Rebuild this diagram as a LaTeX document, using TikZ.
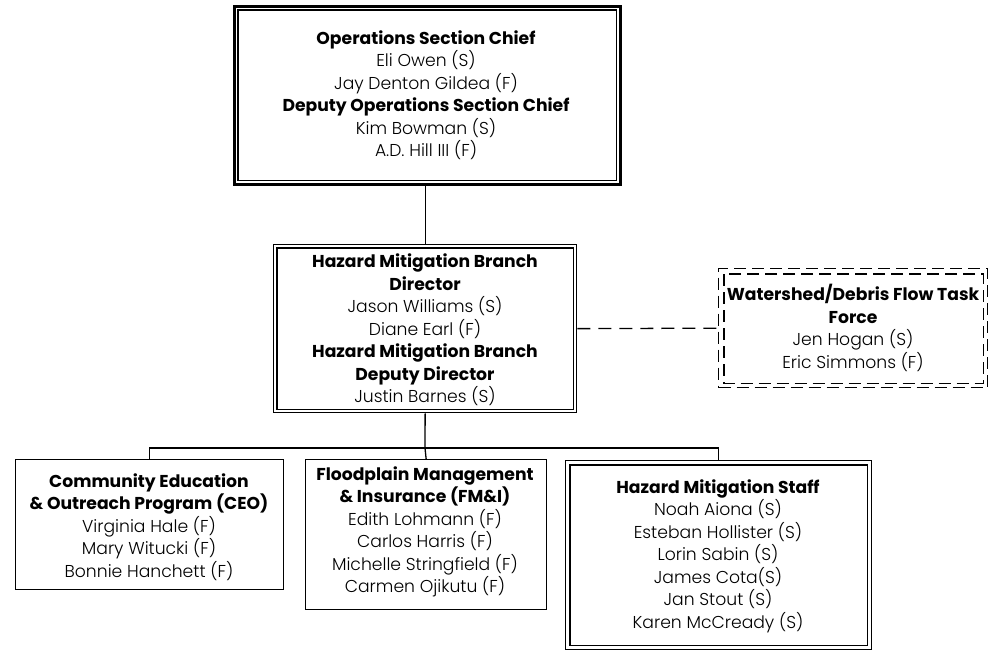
\documentclass[tikz,border=0pt]{standalone}
\usepackage{fontspec}
\IfFontExistsTF{Poppins Light}{\setmainfont{Poppins}[UprightFont=* Light, BoldFont=* Bold]}{\setmainfont{Poppins}}
\begin{document}
\begin{tikzpicture}[x=1pt,y=-1pt,
  box/.style={draw, line width=1.3pt, inner sep=0pt, anchor=north west},
  thickbox/.style={draw, line width=2.6pt, inner sep=0pt, anchor=north west},
  dbox/.style={draw, line width=1.3pt, inner sep=0pt, anchor=north west, dash pattern=on 12pt off 6pt},
  inner/.style={line width=1.1pt},
  txt/.style={align=center, font=\fontsize{17.2}{22.5}\selectfont, inner sep=0pt},
  conn/.style={line width=1.3pt},
  dconn/.style={line width=1.3pt, dash pattern=on 13pt off 8pt}]
\useasboundingbox (0,0) rectangle (989,650);
% boxes
\node[thickbox, minimum width=386pt, minimum height=178pt] (top) at (233,5) {};
\draw[inner] ([shift={(5,5)}]top.north west) rectangle ([shift={(-5,-5)}]top.south east);
\node[box, minimum width=303pt, minimum height=168pt] (mid) at (273,244) {};
\draw[inner] ([shift={(4,4)}]mid.north west) rectangle ([shift={(-4,-4)}]mid.south east);
\node[dbox, minimum width=269pt, minimum height=119pt] (task) at (718,268) {};
\draw[inner, dash pattern=on 12pt off 6pt] ([shift={(6,6)}]task.north west) rectangle ([shift={(-5,-5)}]task.south east);
\node[box, minimum width=268pt, minimum height=130pt] (ceo) at (15,459) {};
\node[box, minimum width=241pt, minimum height=150pt] (fmi) at (305,459) {};
\node[box, minimum width=306pt, minimum height=189pt] (hms) at (565,460) {};
\draw[inner] ([shift={(5,5)}]hms.north west) rectangle ([shift={(-5,-5)}]hms.south east);
% texts
\node[txt] (toptxt) at (426,95) {\textbf{Operations Section Chief}\\Eli Owen (S)\\Jay Denton Gildea (F)\\\textbf{Deputy Operations Section Chief}\\Kim Bowman (S)\\A.D. Hill III (F)};
\node[txt] (midtxt) at (425,330) {\textbf{Hazard Mitigation Branch}\\\textbf{Director}\\Jason Williams (S)\\Diane Earl (F)\\\textbf{Hazard Mitigation Branch}\\\textbf{Deputy Director}\\Justin Barnes (S)};
\node[txt] (tasktxt) at (853,328) {\textbf{Watershed/Debris Flow Task}\\\textbf{Force}\\Jen Hogan (S)\\Eric Simmons (F)};
\node[txt] (ceotxt) at (149,527) {\textbf{Community Education}\\\textbf{\& Outreach Program (CEO)}\\Virginia Hale (F)\\Mary Witucki (F)\\Bonnie Hanchett (F)};
\node[txt] (fmitxt) at (425,532) {\textbf{Floodplain Management}\\\textbf{\& Insurance (FM\&I)}\\Edith Lohmann (F)\\Carlos Harris (F)\\Michelle Stringfield (F)\\Carmen Ojikutu (F)};
\node[txt] (hmstxt) at (718,556) {\textbf{Hazard Mitigation Staff}\\Noah Aiona (S)\\Esteban Hollister (S)\\Lorin Sabin (S)\\James Cota(S)\\Jan Stout (S)\\Karen McCready (S)};
% connectors
\coordinate (bus) at (425,448);
\draw[conn] (top.south -| mid.north) -- (mid.north);
\draw[conn] (mid.south) -- (bus);
\draw[conn] (ceo.north) |- (bus) -| (hms.north);
\draw[conn] (bus) -- (fmi.north);
\draw[dconn] (mid.east) -- (task.west);
\end{tikzpicture}
\end{document}
